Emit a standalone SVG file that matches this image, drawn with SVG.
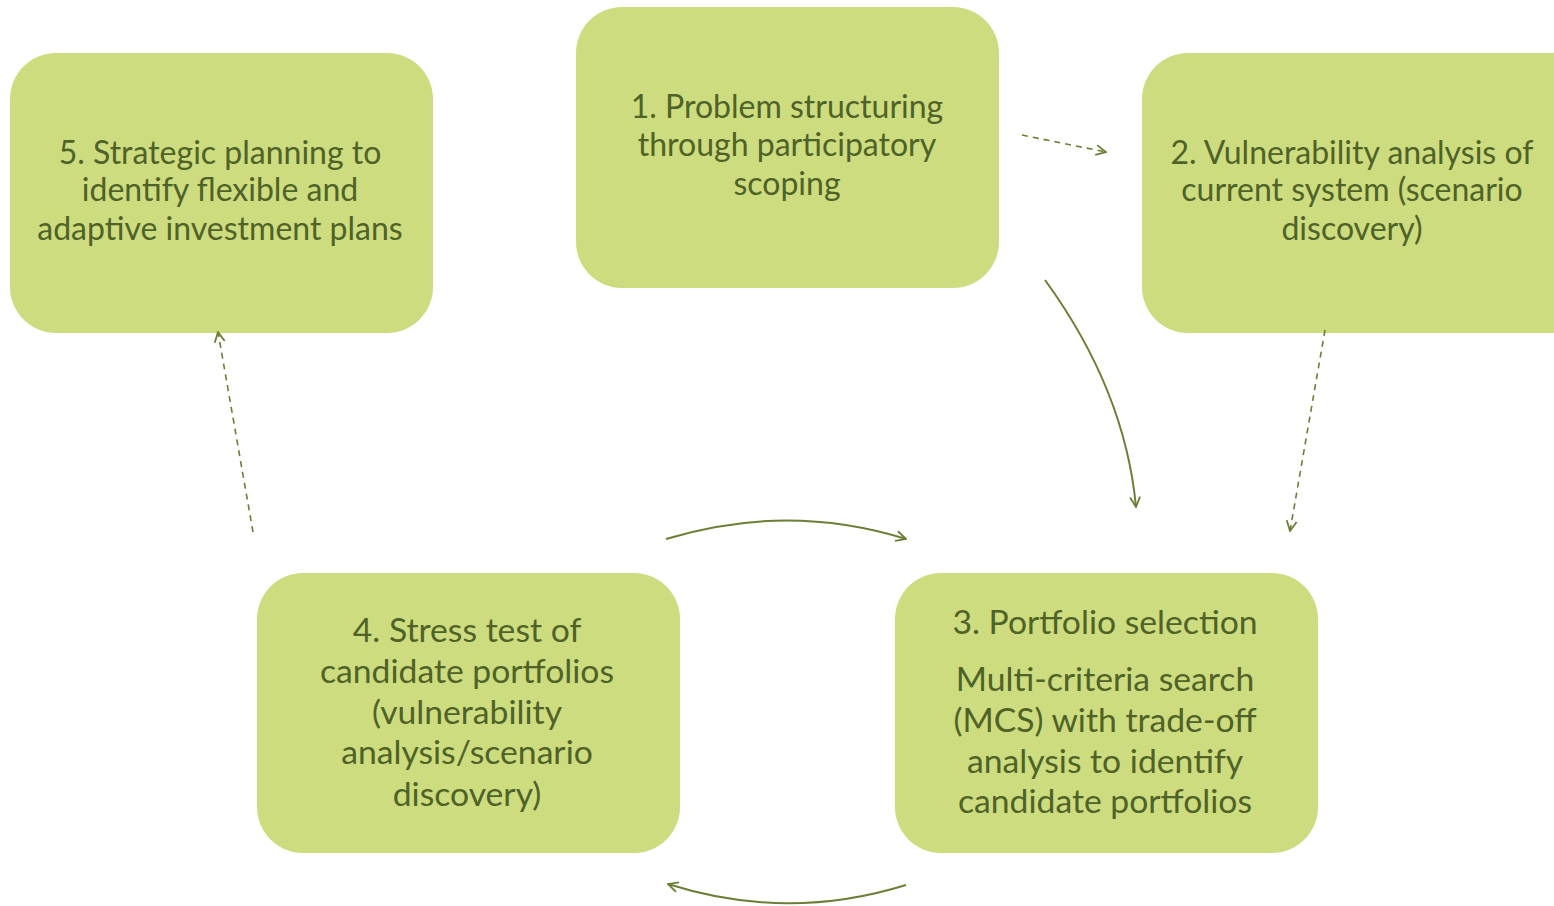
<svg xmlns="http://www.w3.org/2000/svg" width="1554" height="906" viewBox="0 0 1554 906">
<style>
.box{fill:#cddc7e;}
.t{font-family:Lato,"Open Sans","Liberation Sans",sans-serif;font-size:32px;fill:#4f6228;text-anchor:middle;}
.b{font-size:33.7px;}
.c{fill:none;stroke:#6b7f34;stroke-width:2;}
.d{stroke-dasharray:6,5;stroke-width:1.6;}
</style>
<defs>
<marker id="ah" viewBox="0 0 12 12" refX="11" refY="6" markerWidth="12" markerHeight="12" markerUnits="userSpaceOnUse" orient="auto">
<path d="M1,1 L11,6 L1,11" fill="none" stroke="#6b7f34" stroke-width="1.8"/>
</marker>
</defs>
<rect width="1554" height="906" fill="#ffffff"/>
<g id="node1">
<rect class="box" x="576" y="7" width="423" height="281" rx="46"/>
<text class="t" x="787" y="118">1. Problem structuring</text>
<text class="t" x="787" y="156">through participatory</text>
<text class="t" x="787" y="195">scoping</text>
</g>
<g id="node2">
<rect class="box" x="1142" y="53" width="460" height="280" rx="46"/>
<text class="t" x="1352" y="164">2. Vulnerability analysis of</text>
<text class="t" x="1352" y="201">current system (scenario</text>
<text class="t" x="1352" y="240">discovery)</text>
</g>
<g id="node3">
<rect class="box" x="895" y="573" width="423" height="280" rx="46"/>
<text class="t b" x="1105" y="634">3. Portfolio selection</text>
<text class="t b" x="1105" y="691">Multi-criteria search</text>
<text class="t b" x="1105" y="732">(MCS) with trade-off</text>
<text class="t b" x="1105" y="773">analysis to identify</text>
<text class="t b" x="1105" y="813">candidate portfolios</text>
</g>
<g id="node4">
<rect class="box" x="257" y="573" width="423" height="280" rx="46"/>
<text class="t b" x="467" y="642">4. Stress test of</text>
<text class="t b" x="467" y="683">candidate portfolios</text>
<text class="t b" x="467" y="724">(vulnerability</text>
<text class="t b" x="467" y="764">analysis/scenario</text>
<text class="t b" x="467" y="806">discovery)</text>
</g>
<g id="node5">
<rect class="box" x="10" y="53" width="423" height="280" rx="46"/>
<text class="t" x="220" y="164">5. Strategic planning to</text>
<text class="t" x="220" y="201">identify flexible and</text>
<text class="t" x="220" y="240">adaptive investment plans</text>
</g>
<g id="connectors">
<path class="c d" d="M1022,135 L1106,152" marker-end="url(#ah)"/>
<path class="c" d="M1045,280 Q1125,390 1136,507" marker-end="url(#ah)"/>
<path class="c d" d="M1325,330 L1290,531" marker-end="url(#ah)"/>
<path class="c d" d="M253,532 L218,332" marker-end="url(#ah)"/>
<path class="c" d="M666,539 Q787,502 906,539" marker-end="url(#ah)"/>
<path class="c" d="M906,885 Q787,922 668,884" marker-end="url(#ah)"/>
</g>
</svg>
